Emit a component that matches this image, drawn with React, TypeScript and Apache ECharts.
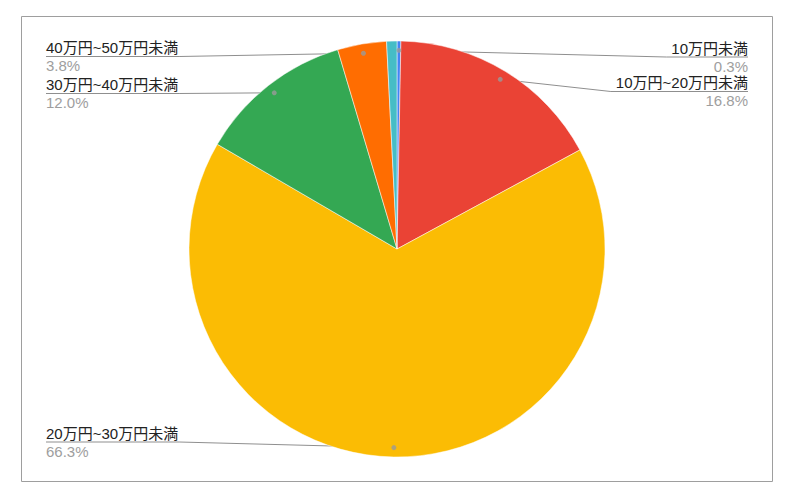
import React, { useEffect, useRef } from "react";
import * as echarts from "echarts";

// ---- data ----
const categories = [
  "10万円未満",
  "10万円~20万円未満",
  "20万円~30万円未満",
  "30万円~40万円未満",
  "40万円~50万円未満",
  "50万円以上",
];
const percentages = [0.3, 16.8, 66.3, 12.0, 3.8, 0.8];
const showLabel = [true, true, true, true, true, false];

// ---- styles / layout ----
const colors = ["#4285f4", "#ea4335", "#fbbc04", "#34a853", "#ff6d01", "#46bdc6"];
const labelLineY = [57, 91.5, 442, 93.5, 56.5, 0];
const CX = 397;
const CY = 249;
const R = 208;
const DOT_RATIO = 0.955;
const LEFT_X = 46;
const RIGHT_X = 748;
const FONT = 'Arial, "Liberation Sans", "Noto Sans CJK JP", sans-serif';

export default function App() {
  const ref = useRef<HTMLDivElement>(null);

  useEffect(() => {
    document.body.style.margin = "0";
    if (!ref.current) return;
    const chart = echarts.init(ref.current, undefined, { renderer: "svg" });

    const total = percentages.reduce((a, b) => a + b, 0);
    let cum = 0;
    const dotData: number[][] = [];
    percentages.forEach((v, i) => {
      const mid = ((cum + v / 2) / total) * 100;
      cum += v;
      if (showLabel[i]) dotData.push([DOT_RATIO, mid]);
    });

    const option: any = {
      animation: false,
      backgroundColor: "#ffffff",
      textStyle: { fontFamily: FONT },
      graphic: [
        {
          type: "rect",
          shape: { x: 21.5, y: 16.5, width: 751, height: 465 },
          style: { fill: "none", stroke: "#9e9e9e", lineWidth: 1 },
          silent: true,
          z: 0,
        },
      ],
      polar: { center: [CX, CY], radius: R },
      angleAxis: {
        type: "value",
        min: 0,
        max: 100,
        startAngle: 90,
        clockwise: true,
        show: false,
      },
      radiusAxis: { type: "value", min: 0, max: 1, show: false },
      series: [
        {
          type: "pie",
          center: [CX, CY],
          radius: R,
          startAngle: 90,
          clockwise: true,
          avoidLabelOverlap: false,
          itemStyle: { borderColor: "#ffffff", borderWidth: 0.5 },
          label: {
            show: true,
            position: "outside",
            fontFamily: FONT,
            formatter: (p: any) =>
              `{n|${p.name}}\n{p|${percentages[p.dataIndex].toFixed(1)}%}`,
            rich: {
              n: { fontSize: 15, color: "#222222", lineHeight: 18, fontFamily: FONT },
              p: { fontSize: 15, color: "#9e9e9e", lineHeight: 18, fontFamily: FONT },
            },
          },
          labelLine: {
            show: true,
            length: 10,
            length2: 10,
            lineStyle: { color: "#8f8f8f", width: 1 },
          },
          labelLayout: (params: any) => {
            const i = params.dataIndex;
            if (!showLabel[i] || !params.labelLinePoints) return {};
            const p0 = params.labelLinePoints[0];
            const dot = [CX + (p0[0] - CX) * DOT_RATIO, CY + (p0[1] - CY) * DOT_RATIO];
            const w = params.labelRect.width;
            const y = labelLineY[i];
            if (dot[0] < CX) {
              return {
                x: LEFT_X,
                y,
                align: "left",
                verticalAlign: "middle",
                labelLinePoints: [dot, [LEFT_X + w + 1, y], [LEFT_X, y]],
              };
            }
            return {
              x: RIGHT_X,
              y,
              align: "right",
              verticalAlign: "middle",
              labelLinePoints: [dot, [RIGHT_X - w - 5, y], [RIGHT_X, y]],
            };
          },
          data: categories.map((name, i) => ({
            name,
            value: percentages[i],
            itemStyle: { color: colors[i] },
            label: { show: showLabel[i] },
            labelLine: { show: showLabel[i] },
          })),
          z: 2,
        },
        {
          type: "scatter",
          coordinateSystem: "polar",
          symbol: "circle",
          symbolSize: 5,
          itemStyle: { color: "#9a9a9a" },
          silent: true,
          data: dotData,
          z: 5,
        },
      ],
    };

    chart.setOption(option);
    return () => chart.dispose();
  }, []);

  return <div ref={ref} style={{ width: 798, height: 492 }} />;
}
